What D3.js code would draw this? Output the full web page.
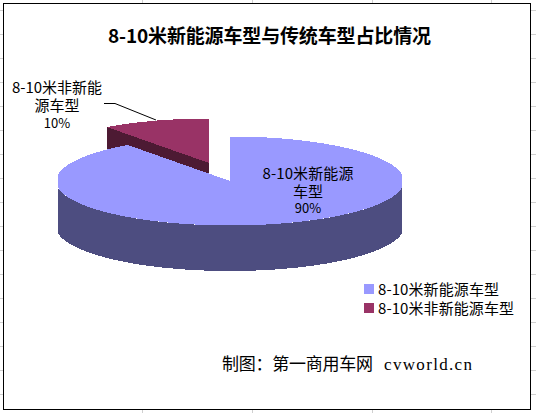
<!DOCTYPE html>
<html>
<head>
<meta charset="utf-8">
<script src="https://cdn.jsdelivr.net/npm/d3@7"></script>
<style>
  html, body { margin: 0; padding: 0; background: #fff; }
  svg { display: block; }
</style>
</head>
<body>
<script>
const w = 536;
const h = 413;

const categories = ["8-10米新能源车型", "8-10米非新能源车型"];
const shares = [90, 10];
const titleText = "8-10米新能源车型与传统车型占比情况";
const creditCn = "制图：第一商用车网";
const creditEn = "cvworld.cn";

const topColors = ["#9999ff", "#993366"];
const sideColors = ["#4d4d80", "#4d1a33"];

// excel sheet lines showing round the chart
const sheetCols = [142, 252, 372, 491];
const sheetRows = d3.range(10, 413, 24);

const svg = d3.select("body").append("svg").attr("width", w).attr("height", h);
const font = "'Noto Sans CJK SC', sans-serif";

// sheet + frame
svg.selectAll("line.col").data(sheetCols).enter().append("line")
  .attr("x1", d => d + 0.5).attr("x2", d => d + 0.5).attr("y1", 0).attr("y2", h)
  .attr("stroke", "#d0d0d0");
svg.selectAll("line.row").data(sheetRows).enter().append("line")
  .attr("x1", 0).attr("x2", w).attr("y1", d => d + 0.5).attr("y2", d => d + 0.5)
  .attr("stroke", "#d0d0d0");
svg.append("rect")
  .attr("x", 3.5).attr("y", 3.5).attr("width", 527).attr("height", 406)
  .attr("fill", "#fff").attr("stroke", "#000");

// pie
const rx = 174, ry = 44.5, depth = 45.5;
const cx = 230, cy = 181;
const squash = ry / rx;
const slices = d3.pie().sort(null)(shares);
const arc = d3.arc().innerRadius(0).outerRadius(rx);

svg.append("clipPath").attr("id", "pieClip").append("rect")
  .attr("x", 58).attr("y", 100).attr("width", 344).attr("height", 200);
const pie = svg.append("g").attr("clip-path", "url(#pieClip)").attr("shape-rendering", "crispEdges");

// the small slice pulled out up and left, its cut face sits behind the big slice
const offX = -21, offY = -18;
const tipA = slices[1].startAngle;
const small = pie.append("g").attr("transform", `translate(${cx + offX},${cy + offY})`);
small.append("path")
  .attr("d", d3.line()([
    [0, 0],
    [rx * Math.sin(tipA), -ry * Math.cos(tipA)],
    [rx * Math.sin(tipA), -ry * Math.cos(tipA) + depth],
    [0, depth]
  ]))
  .attr("fill", sideColors[1]);
small.append("path")
  .attr("d", arc(slices[1]))
  .attr("transform", `scale(1,${squash})`)
  .attr("fill", topColors[1]);

// wall of the big slice along the front half of the ellipse
const big = pie.append("g").attr("transform", `translate(${cx},${cy})`);
const wall = d3.area()
  .x(a => rx * Math.sin(a))
  .y0(a => -ry * Math.cos(a))
  .y1(a => -ry * Math.cos(a) + depth);
big.append("path")
  .attr("d", wall(d3.range(Math.PI / 2, 3 * Math.PI / 2 + 0.01, 0.02)))
  .attr("fill", sideColors[0]);
big.append("path")
  .attr("d", arc(slices[0]))
  .attr("transform", `scale(1,${squash})`)
  .attr("fill", topColors[0]);

// text helper, textLength keeps the half width digits of the original spacing
function label(x, y, txt, size, len, anchor) {
  const t = svg.append("text")
    .attr("x", x).attr("y", y)
    .attr("font-family", font)
    .attr("font-size", size)
    .attr("text-anchor", anchor || "middle")
    .attr("dominant-baseline", "central")
    .attr("fill", "#000")
    .text(txt);
  if (len) t.attr("textLength", len).attr("lengthAdjust", "spacing");
  return t;
}

label(269.5, 34, titleText, 19, 323).attr("font-weight", "bold");

// data labels
label(57, 86, categories[1].slice(0, 8), 15, 90);
label(57, 104, categories[1].slice(8), 15, 45);
label(57, 122, shares[1] + "%", 13);
label(308, 172, categories[0].slice(0, 8), 15, 91);
label(308, 190, categories[0].slice(8), 15, 30);
label(308, 207, shares[0] + "%", 13);

svg.append("path")
  .attr("d", d3.line()([[104, 103.5], [115, 103.5], [156, 120]]))
  .attr("fill", "none").attr("stroke", "#000");

// legend
const legendY = d3.scalePoint().domain(categories).range([289, 308]);
const legendLen = [121, 136];
categories.forEach((c, i) => {
  svg.append("rect")
    .attr("x", 364).attr("y", legendY(c) - 5).attr("width", 10).attr("height", 10)
    .attr("fill", topColors[i]);
  label(378, legendY(c) - 1, c, 15, legendLen[i], "start");
});

// credit
label(222, 362, creditCn, 17, 151, "start");
label(384, 364, creditEn, 17, 88, "start").attr("font-family", "'Liberation Serif', serif");
</script>
</body>
</html>
